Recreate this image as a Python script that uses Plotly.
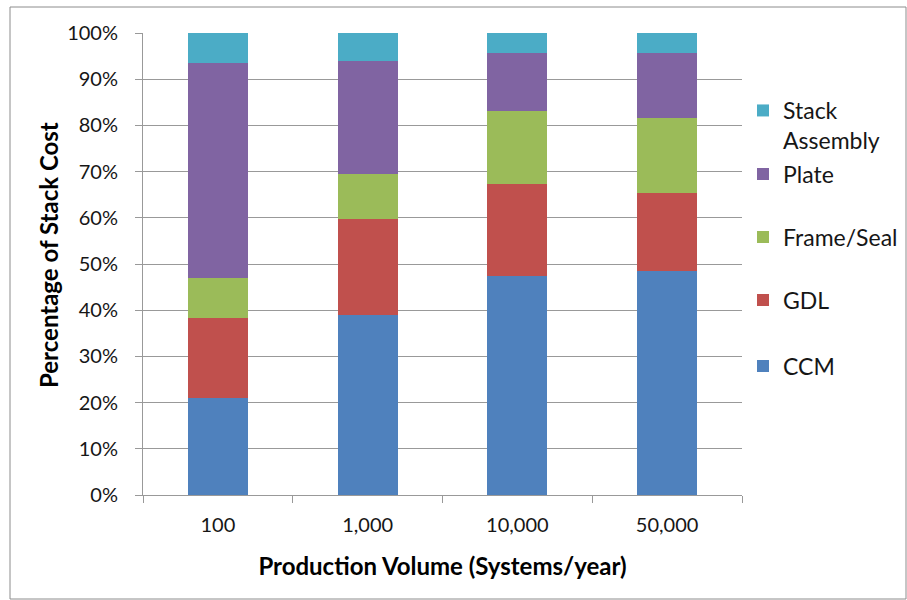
import plotly.graph_objects as go

# Production volumes (systems/year) and stack cost breakdown in percent
volumes = ["100", "1,000", "10,000", "50,000"]
ccm = [21.0, 38.9, 47.4, 48.4]
gdl = [17.3, 20.9, 19.9, 16.9]
frame_seal = [8.7, 9.6, 15.9, 16.2]
plate = [46.4, 24.6, 12.5, 14.2]
stack_assembly = [6.6, 6.0, 4.3, 4.3]

y_ticks = [0, 10, 20, 30, 40, 50, 60, 70, 80, 90, 100]
y_tick_text = [f"{v}%" for v in y_ticks]

FONT = "Lato"
TXT = "#161616"
GRID = "#999999"

# (name, values, colour, legend id, legend row centre in px)
series = [
    ("CCM", ccm, "#4F81BD", "legend", 366),
    ("GDL", gdl, "#C0504D", "legend2", 300),
    ("Frame/Seal", frame_seal, "#9BBB59", "legend3", 237),
    ("Plate", plate, "#8064A2", "legend4", 174),
    ("Stack<br>Assembly", stack_assembly, "#4BACC6", "legend5", 111),
]

fig = go.Figure()
for name, vals, color, leg, _ in series:
    fig.add_trace(go.Bar(
        x=volumes, y=vals, name=name, legend=leg,
        marker=dict(color=color, line=dict(width=0)),
        width=0.4,
    ))

# plot area spans pixels 143..742 horizontally and 33..495 vertically
PX0, PX1, PY0, PY1 = 143, 742, 33, 495
PW, PH = PX1 - PX0, PY1 - PY0

legends = {}
for name, vals, color, leg, ypix in series:
    multi = "<br>" in name
    legends[leg] = dict(
        x=(743 - PX0) / PW, xanchor="left",
        y=(PY1 - (ypix - 22 if multi else ypix)) / PH,
        yanchor="top" if multi else "middle",
        font=dict(family=FONT, size=23, color=TXT),
        bgcolor="rgba(0,0,0,0)", borderwidth=0,
        valign="top", itemwidth=30,
    )

fig.update_layout(
    barmode="stack",
    width=907, height=600,
    margin=dict(l=PX0, r=907 - PX1, t=PY0, b=600 - PY1, autoexpand=False),
    paper_bgcolor="white", plot_bgcolor="white",
    font=dict(family=FONT, size=20, color=TXT),
    showlegend=True,
    **legends,
    xaxis=dict(
        showgrid=False, tickson="boundaries", ticks="outside", ticklen=7,
        tickcolor=GRID, showline=True, linecolor=GRID, linewidth=1,
        tickfont=dict(family=FONT, size=20, color=TXT),
        ticklabelstandoff=12,
        title=dict(text="<b>Production Volume (Systems/year)</b>",
                   font=dict(family=FONT, size=24, color="#000000"), standoff=23),
    ),
    yaxis=dict(
        range=[0, 100], tickvals=y_ticks, ticktext=y_tick_text,
        showgrid=True, gridcolor=GRID, gridwidth=1,
        ticks="outside", ticklen=7, tickcolor=GRID,
        showline=True, linecolor=GRID, linewidth=1,
        tickfont=dict(family=FONT, size=20, color=TXT),
        ticklabelstandoff=13,
        zeroline=False,
    ),
    annotations=[dict(
        text="<b>Percentage of Stack Cost</b>", textangle=-90,
        xref="paper", yref="paper",
        x=(48 - PX0) / PW, y=(PY1 - 255) / PH,
        xanchor="center", yanchor="middle", showarrow=False,
        font=dict(family=FONT, size=24, color="#000000"),
    )],
    shapes=[dict(type="rect", xref="paper", yref="paper",
                 x0=(10 - PX0) / PW, x1=(906 - PX0) / PW,
                 y0=(PY1 - 599) / PH, y1=(PY1 - 7) / PH,
                 line=dict(color="#8c8c8c", width=1), layer="below")],
)

fig.write_html("out.html")
